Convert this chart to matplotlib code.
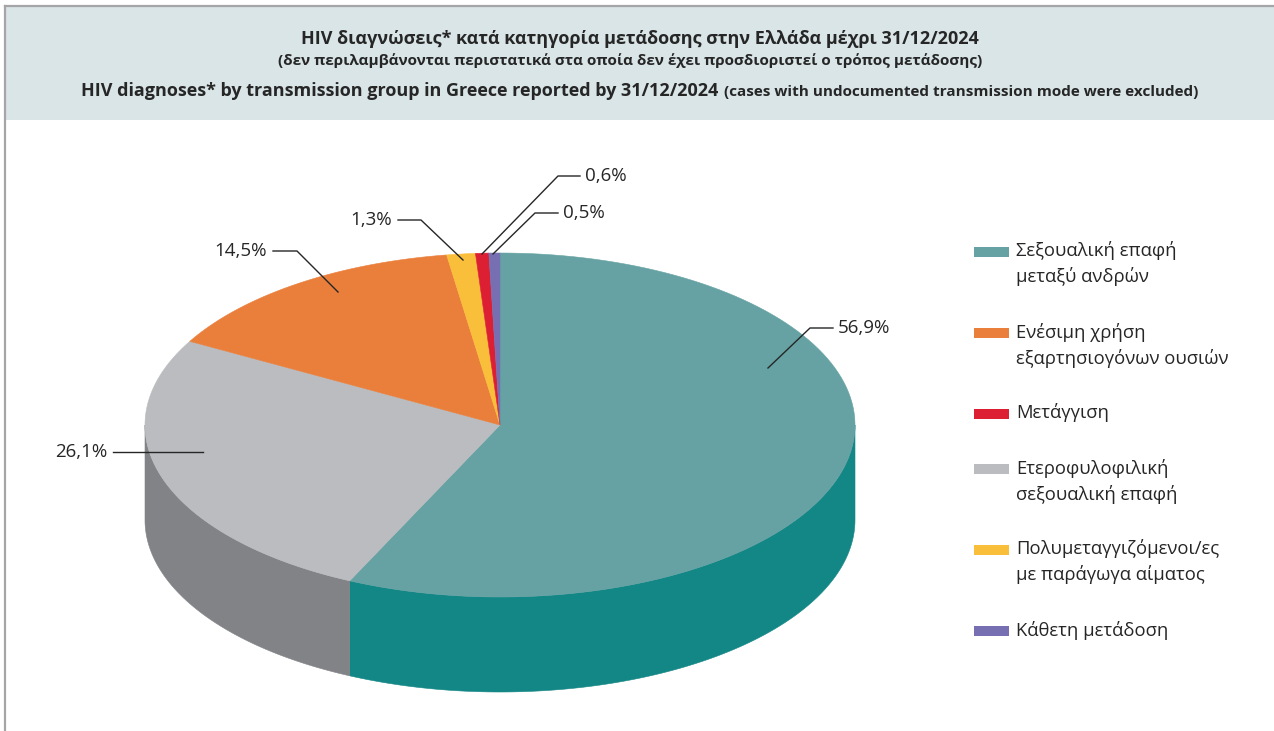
import numpy as np
import matplotlib.pyplot as plt
from matplotlib.patches import Polygon, Rectangle

plt.rcParams['font.family'] = ['Open Sans', 'DejaVu Sans']

# Data (legend order)
labels = ['Σεξουαλική επαφή\nμεταξύ ανδρών',
          'Ενέσιμη χρήση\nεξαρτησιογόνων ουσιών',
          'Μετάγγιση',
          'Ετεροφυλοφιλική\nσεξουαλική επαφή',
          'Πολυμεταγγιζόμενοι/ες\nμε παράγωγα αίματος',
          'Κάθετη μετάδοση']
shares = [56.9, 14.5, 0.6, 26.1, 1.3, 0.5]
top_colors = ['#66a2a3', '#ea7f3c', '#dc1f32', '#bbbcbf', '#f9bf3b', '#7670b2']
side_colors = ['#138686', '#c0652c', '#b01828', '#828387', '#d9a020', '#5c5690']
# slices go clockwise from 12 o'clock in this order
pie_order = [0, 3, 1, 4, 2, 5]

title1 = 'HIV διαγνώσεις* κατά κατηγορία μετάδοσης στην Ελλάδα μέχρι 31/12/2024'
title2 = '(δεν περιλαμβάνονται περιστατικά στα οποία δεν έχει προσδιοριστεί ο τρόπος μετάδοσης)'
title3a = 'HIV diagnoses* by transmission group in Greece reported by 31/12/2024'
title3b = '(cases with undocumented transmission mode were excluded)'

# label leader lines: anchor, elbow, end, text side
leaders = {
    0: [(768, 368), (810, 328), (833, 328), 'left'],
    3: [(203, 452), (203, 452), (113, 452), 'right'],
    1: [(338, 292), (297, 251), (273, 251), 'right'],
    4: [(463, 260), (421, 220), (398, 220), 'right'],
    2: [(482, 254), (558, 176), (580, 176), 'left'],
    5: [(493, 254), (535, 213), (558, 213), 'left'],
}

W, H = 1274, 731
fig = plt.figure(figsize=(W / 100, H / 100), dpi=100)
ax = fig.add_axes([0, 0, 1, 1])
ax.set_xlim(0, W)
ax.set_ylim(H, 0)
ax.axis('off')

txt = '#262626'

# frame + header
ax.add_patch(Rectangle((6, 7), W - 6, 113, facecolor='#d9e5e7', edgecolor='none'))
ax.plot([5, W], [6, 6], color='#a5a5a8', lw=1.6)
ax.plot([5, 5], [6, H], color='#a5a5a8', lw=1.6)

ax.text(640, 39, title1, ha='center', va='center', fontsize=13, fontweight='bold', color=txt)
ax.text(630, 61, title2, ha='center', va='center', fontsize=11, fontweight='bold', color=txt)
ax.text(718, 91, title3a, ha='right', va='center', fontsize=13, fontweight='bold', color=txt)
ax.text(724, 92, title3b, ha='left', va='center', fontsize=11, fontweight='bold', color=txt)

# 3D pie geometry
cx, cy, rx, ry, depth = 500, 425, 355, 172, 95


def arc(t1, t2, dy=0, n=120):
    t = np.radians(np.linspace(t1, t2, n))
    return np.column_stack([cx + rx * np.sin(t), cy - ry * np.cos(t) + dy])


total = sum(shares)
starts = {}
a = 0.0
for i in pie_order:
    span = shares[i] / total * 360
    starts[i] = (a, a + span)
    a += span

# sides (only front half visible)
for i in pie_order:
    t1, t2 = starts[i]
    s1, s2 = max(t1, 90), min(t2, 270)
    if s1 < s2:
        pts = np.vstack([arc(s1, s2), arc(s2, s1, depth)])
        ax.add_patch(Polygon(pts, closed=True, facecolor=side_colors[i],
                             edgecolor=side_colors[i], lw=0.4))

# tops
for i in pie_order:
    t1, t2 = starts[i]
    pts = np.vstack([[cx, cy], arc(t1, t2)])
    ax.add_patch(Polygon(pts, closed=True, facecolor=top_colors[i],
                         edgecolor=top_colors[i], lw=0.4))

# data labels
for i, (p0, p1, p2, side) in leaders.items():
    ax.plot([p0[0], p1[0], p2[0]], [p0[1], p1[1], p2[1]], color='#262626', lw=1.0)
    lab = f'{shares[i]:.1f}'.replace('.', ',') + '%'
    dx = 5 if side == 'left' else -6
    ax.text(p2[0] + dx, p2[1], lab, ha=side, va='center', fontsize=13.5, color=txt)

# legend
y = 251
for i, lab in enumerate(labels):
    lines = lab.split('\n')
    ax.add_patch(Rectangle((974, y - 4.5), 35, 10, facecolor=top_colors[i], edgecolor='none'))
    for k, line in enumerate(lines):
        ax.text(1016, y + 26 * k, line, ha='left', va='center', fontsize=13.3, color=txt)
    y += 26 * len(lines) + 29

fig.savefig('out.png', dpi=100)
